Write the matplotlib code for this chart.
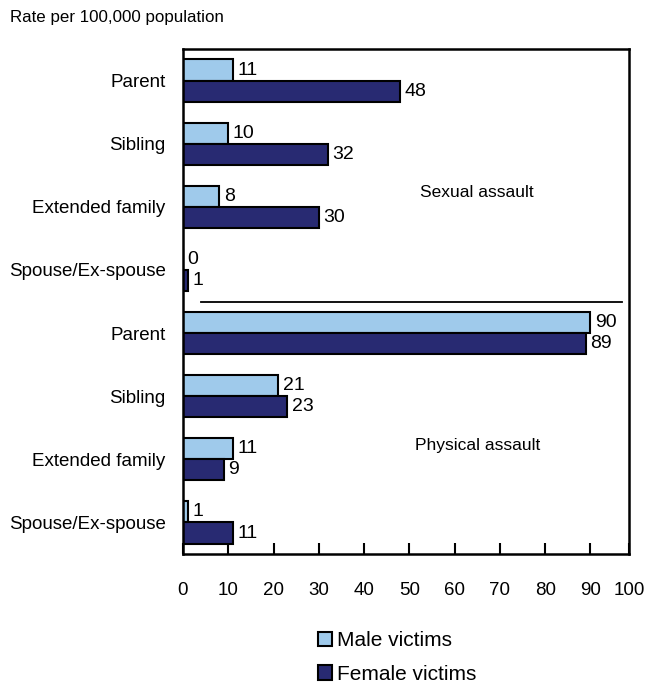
import numpy as np
import matplotlib
matplotlib.use('Agg')
import matplotlib.pyplot as plt
from matplotlib.patches import Patch

plt.rcParams['font.family'] = ['Liberation Sans', 'DejaVu Sans']

# data, top to bottom
relations = ['Parent', 'Sibling', 'Extended family', 'Spouse/Ex-spouse',
             'Parent', 'Sibling', 'Extended family', 'Spouse/Ex-spouse']
male = [11, 10, 8, 0, 90, 21, 11, 1]
female = [48, 32, 30, 1, 89, 23, 9, 11]
x_ticks = [0, 10, 20, 30, 40, 50, 60, 70, 80, 90, 98.5]
x_labels = ['0', '10', '20', '30', '40', '50', '60', '70', '80', '90', '100']

light = '#9fcaeb'
dark = '#282a72'

fig = plt.figure(figsize=(6.5, 6.84), dpi=100)
ax = fig.add_axes([0.2815, 0.19, 0.686, 0.7383])

y = np.arange(len(relations))
h = 0.335
ax.barh(y - h / 2, male, height=h, color=light, edgecolor='black', linewidth=1.5)
ax.barh(y + h / 2, female, height=h, color=dark, edgecolor='black', linewidth=1.5)

for i in range(len(relations)):
    ax.text(male[i] + 1.0, y[i] - h / 2, str(male[i]), va='center', ha='left', fontsize=14)
    ax.text(female[i] + 1.0, y[i] + h / 2, str(female[i]), va='center', ha='left', fontsize=14)

# separator between the two panels
ax.plot([4, 97], [3.5, 3.5], color='black', linewidth=1.3)
ax.text(65, 1.78, 'Sexual assault', ha='center', va='center', fontsize=12.5)
ax.text(65, 5.78, 'Physical assault', ha='center', va='center', fontsize=12.5)

ax.set_xlim(0, 98.5)
ax.set_ylim(7.5, -0.5)
ax.set_yticks(y)
ax.set_yticklabels(relations, fontsize=13.5)
ax.tick_params(axis='y', length=0, pad=12.5)
ax.set_xticks(x_ticks)
ax.set_xticklabels(x_labels, fontsize=13.5)
ax.tick_params(axis='x', direction='in', length=8, width=1.5, pad=20)
for s in ax.spines.values():
    s.set_linewidth(1.8)

fig.text(0.015, 0.975, 'Rate per 100,000 population', ha='left', va='center', fontsize=12.2)

handles = [Patch(facecolor=light, edgecolor='black', linewidth=1.5),
           Patch(facecolor=dark, edgecolor='black', linewidth=1.5)]
fig.legend(handles, ['Male victims', 'Female victims'], loc='upper left',
           bbox_to_anchor=(0.473, 0.092), frameon=False, fontsize=15,
           handlelength=0.7, handleheight=0.7, handletextpad=0.2, labelspacing=0.7,
           borderpad=0)

fig.savefig('out.png', dpi=100)
